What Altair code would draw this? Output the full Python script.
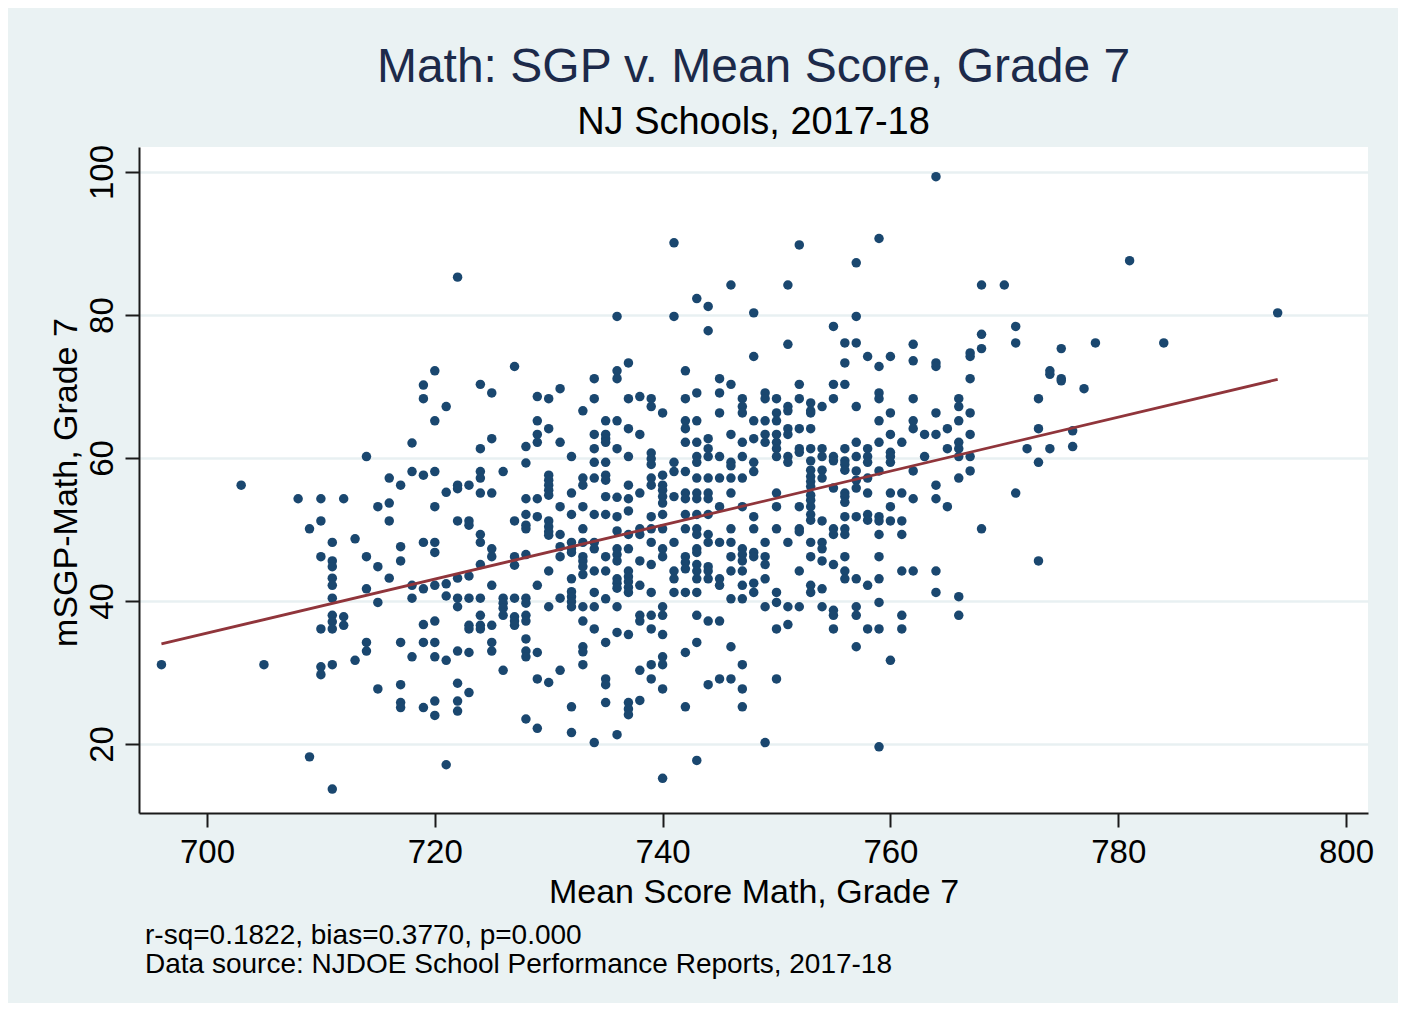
import altair as alt
import pandas as pd

# ---- data (mean scale score -> list of school mSGP values)
scores = [696, 703, 705, 708, 709, 710, 711, 712, 713, 714, 715, 716, 717, 718, 719, 720,
          721, 722, 723, 724, 725, 726, 727, 728, 729, 730, 731, 732, 733, 734, 735, 736,
          737, 738, 739, 740, 741, 742, 743, 744, 745, 746, 747, 748, 749, 750, 751, 752,
          753, 754, 755, 756, 757, 758, 759, 760, 761, 762, 763, 764, 765, 766, 767, 768,
          770, 771, 772, 773, 774, 775, 776, 777, 778, 781, 784, 794]

msgp = [
    [31.1],
    [56.2],
    [31.1],
    [54.3],
    [50.1, 18.2],
    [54.3, 51.2, 46.2, 36.1, 30.8, 29.7],
    [48.2, 45.6, 44.8, 43.2, 42.2, 40.4, 38.0, 37.1, 36.1, 31.1, 13.7],
    [54.3, 37.8, 36.6],
    [48.7, 31.7],
    [60.2, 46.2, 41.7, 34.2, 33.0],
    [53.2, 44.8, 39.8, 27.7],
    [57.2, 53.7, 51.2, 43.2],
    [56.2, 47.6, 45.6, 34.2, 28.3, 25.8, 25.1],
    [62.1, 58.1, 42.2, 40.4, 32.2],
    [70.2, 68.3, 57.6, 48.2, 41.7, 36.7, 34.2, 25.1],
    [72.2, 65.2, 58.1, 53.2, 48.2, 46.8, 42.2, 37.2, 34.2, 32.2, 26.0, 24.0],
    [67.2, 55.2, 42.4, 40.7, 31.7, 17.1],
    [85.3, 56.2, 55.7, 51.2, 43.2, 40.4, 39.2, 33.0, 28.5, 26.0, 24.6],
    [56.2, 51.2, 50.6, 43.5, 40.4, 36.6, 36.1, 32.8, 27.2],
    [70.3, 61.3, 58.1, 57.2, 55.1, 49.3, 48.2, 45.1, 40.4, 38.0, 36.6, 36.1],
    [69.1, 62.7, 55.1, 47.3, 46.2, 42.2, 36.6, 34.2, 33.0],
    [58.1, 40.4, 39.7, 39.0, 38.0, 30.3],
    [72.8, 51.2, 46.2, 45.0, 40.4, 37.8, 37.2, 36.6],
    [61.6, 59.3, 54.3, 52.1, 50.6, 50.1, 46.5, 40.4, 39.7, 38.0, 37.2, 34.7, 33.0, 32.2, 23.5],
    [68.6, 65.2, 63.3, 62.2, 54.3, 51.8, 42.2, 32.8, 29.1, 22.2],
    [68.3, 64.1, 57.6, 56.9, 56.2, 55.5, 54.8, 51.2, 50.4, 49.7, 49.2, 44.2, 39.2, 28.6],
    [69.7, 62.2, 53.2, 49.3, 47.6, 46.2, 40.4, 30.3],
    [60.2, 55.1, 52.1, 48.2, 47.3, 46.8, 43.1, 41.3, 40.6, 39.9, 39.2, 25.2, 21.6],
    [66.6, 57.2, 56.2, 53.2, 50.1, 48.2, 46.2, 45.6, 44.8, 43.7, 39.2, 37.2, 33.6, 32.9, 31.1],
    [71.1, 68.3, 63.3, 61.3, 59.4, 57.2, 52.1, 48.2, 47.3, 44.2, 41.2, 39.2, 36.1, 20.2],
    [65.2, 63.3, 62.7, 62.2, 59.4, 57.6, 56.9, 54.6, 52.1, 46.2, 44.2, 40.3, 34.2, 29.1, 28.3, 25.8],
    [79.8, 72.2, 71.1, 65.2, 61.3, 54.5, 51.8, 49.8, 47.3, 46.5, 45.6, 43.1, 42.5, 41.8, 39.2, 35.6, 21.3],
    [73.3, 68.3, 64.1, 60.2, 56.2, 54.3, 52.6, 49.3, 47.3, 44.2, 43.4, 42.7, 41.9, 41.2, 35.3, 25.8, 24.9, 24.1],
    [68.6, 63.3, 55.1, 50.1, 49.3, 45.6, 42.2, 38.0, 37.2, 30.3, 26.1],
    [68.3, 67.2, 60.7, 59.9, 59.1, 57.2, 56.2, 51.8, 50.1, 48.2, 45.1, 41.2, 38.0, 36.1, 31.1, 29.1],
    [66.3, 57.6, 56.2, 55.5, 54.6, 53.7, 52.1, 50.1, 47.3, 46.2, 39.2, 38.0, 35.3, 32.2, 31.1, 27.7, 15.2],
    [90.1, 79.8, 59.4, 58.1, 54.6, 48.2, 44.2, 43.1, 41.2],
    [72.2, 68.3, 65.2, 64.1, 62.2, 58.1, 55.1, 54.3, 52.1, 50.1, 46.2, 45.4, 44.5, 41.2, 32.8, 25.2],
    [82.3, 69.1, 65.2, 62.2, 60.2, 59.4, 57.2, 55.1, 54.3, 52.1, 50.1, 49.3, 47.3, 46.8, 45.1, 44.2,
     43.1, 41.2, 38.0, 34.2, 17.7],
    [81.2, 77.8, 62.7, 61.3, 60.2, 57.2, 55.1, 54.3, 52.1, 49.3, 48.2, 44.8, 44.2, 43.1, 37.2, 28.3],
    [71.1, 69.1, 66.3, 60.2, 57.2, 53.2, 48.2, 43.1, 42.2, 37.2, 29.1],
    [84.2, 70.3, 63.3, 59.4, 58.9, 57.2, 55.1, 50.1, 48.2, 46.2, 44.2, 40.3, 33.6, 29.1],
    [68.3, 67.2, 66.3, 62.2, 60.2, 57.2, 53.2, 47.3, 46.5, 45.6, 44.2, 42.2, 40.3, 31.1, 27.7, 25.2],
    [80.3, 74.2, 65.2, 62.7, 59.4, 58.1, 51.8, 50.1, 46.8, 46.2, 42.5, 41.2],
    [69.1, 68.3, 65.2, 63.3, 62.2, 48.2, 46.2, 45.1, 43.1, 39.2, 20.2],
    [68.3, 66.3, 65.2, 63.3, 62.2, 61.3, 60.2, 55.1, 53.2, 50.1, 41.2, 39.8, 36.1, 29.1],
    [84.2, 75.9, 67.2, 66.6, 64.1, 63.3, 60.2, 59.4, 48.2, 39.2, 36.7],
    [89.8, 70.3, 68.3, 64.1, 61.3, 60.8, 53.2, 50.1, 49.7, 44.2, 39.2],
    [67.7, 66.6, 66.3, 64.1, 61.3, 59.6, 58.3, 57.4, 56.7, 56.0, 54.8, 54.1, 53.2, 52.1, 51.3, 48.2,
     46.2, 42.2, 41.2],
    [67.2, 61.3, 60.2, 58.3, 57.2, 51.2, 48.2, 47.3, 45.6, 41.7, 39.2],
    [78.4, 70.3, 68.3, 60.2, 59.6, 55.8, 50.1, 49.3, 45.1, 38.7, 38.0, 36.1],
    [76.1, 73.3, 70.3, 61.3, 59.6, 59.1, 58.3, 55.1, 54.6, 53.8, 51.8, 50.1, 49.3, 46.2, 44.2, 43.1],
    [87.3, 79.8, 76.1, 67.2, 62.2, 60.2, 58.2, 56.9, 55.8, 51.8, 43.1, 39.2, 38.0, 33.6],
    [74.2, 61.3, 60.2, 59.4, 57.2, 55.1, 52.1, 51.3, 42.2, 36.1],
    [90.7, 72.8, 69.1, 68.3, 65.2, 62.2, 58.2, 51.8, 51.2, 49.3, 46.2, 43.1, 39.8, 36.1, 19.6],
    [74.2, 66.3, 63.3, 60.8, 60.2, 59.4, 55.1, 53.2, 51.2, 31.7],
    [62.2, 55.1, 51.2, 49.3, 44.2, 38.0, 36.1],
    [75.9, 73.6, 68.3, 65.2, 64.1, 58.2, 54.3, 44.2],
    [63.3, 60.2],
    [99.35, 73.3, 72.8, 66.3, 63.3, 56.2, 54.3, 44.2, 41.2],
    [64.1, 61.3, 53.2],
    [68.3, 67.2, 65.2, 62.2, 61.3, 60.2, 57.2, 40.6, 38.0],
    [74.7, 74.2, 71.1, 66.3, 63.3, 60.2, 58.2],
    [84.2, 77.3, 75.3, 50.1],
    [84.2],
    [78.4, 76.1, 55.1],
    [61.3],
    [68.3, 64.1, 59.4, 45.6],
    [72.2, 71.7, 61.3],
    [75.3, 71.1, 70.8],
    [63.8, 61.6],
    [69.7],
    [76.1],
    [87.6],
    [76.1],
    [80.3],
]

# fitted line end points
fit_x = [696, 794]
fit_y = [34.0, 71.0]

x_ticks = [700, 720, 740, 760, 780, 800]
y_ticks = [20, 40, 60, 80, 100]

title_text = "Math: SGP v. Mean Score, Grade 7"
subtitle_text = "NJ Schools, 2017-18"
x_title = "Mean Score Math, Grade 7"
y_title = "mSGP-Math, Grade 7"
footer_lines = ["r-sq=0.1822, bias=0.3770, p=0.000",
                "Data source: NJDOE School Performance Reports, 2017-18"]

# ---- build tables
rows = []
for s, vals in zip(scores, msgp):
    for v in vals:
        rows.append({"score": s, "sgp": v})
df = pd.DataFrame(rows)
fit_df = pd.DataFrame({"score": fit_x, "sgp": fit_y})
footer_df = pd.DataFrame({"text": ["\n".join(footer_lines)]})

FONT = "Liberation Sans"
W, H = 1229, 666

x_scale = alt.Scale(domain=[694.03, 801.93], nice=False, zero=False)
y_scale = alt.Scale(domain=[10.35, 103.5], nice=False, zero=False)

x_axis = alt.Axis(
    values=x_ticks, title=x_title, grid=False,
    domainColor="#1a1a1a", domainWidth=2, tickColor="#1a1a1a", tickWidth=2, tickSize=14,
    labelFont=FONT, labelFontSize=33, labelColor="black", labelPadding=9,
    titleFont=FONT, titleFontSize=34, titleFontWeight="normal", titleColor="black",
    titleY=89, titleBaseline="alphabetic",
)
y_axis = alt.Axis(
    values=y_ticks, title=y_title, grid=True, gridColor="#e8f0f2", gridWidth=2.5,
    domainColor="#1a1a1a", domainWidth=2, tickColor="#1a1a1a", tickWidth=2, tickSize=14,
    labelFont=FONT, labelFontSize=33, labelColor="black", labelAngle=270,
    labelAlign="center", labelBaseline="bottom", labelPadding=6,
    titleFont=FONT, titleFontSize=34, titleFontWeight="normal", titleColor="black",
    titleAngle=270, titleAlign="center", titleBaseline="alphabetic",
    titleX=-63, titleY=H / 2 + 2,
)

points = alt.Chart(df).mark_circle(size=90, color="#1a476f", opacity=1).encode(
    x=alt.X("score:Q", scale=x_scale, axis=x_axis),
    y=alt.Y("sgp:Q", scale=y_scale, axis=y_axis),
)

line = alt.Chart(fit_df).mark_line(color="#90353b", strokeWidth=2.8).encode(
    x=alt.X("score:Q", scale=x_scale),
    y=alt.Y("sgp:Q", scale=y_scale),
)

footer = alt.Chart(footer_df).mark_text(
    align="left", baseline="alphabetic", font=FONT, fontSize=28,
    lineBreak="\n", lineHeight=28.7, color="black",
).encode(
    x=alt.value(6), y=alt.value(797), text="text:N"
)

chart = alt.layer(points, line, footer).properties(
    width=W, height=H,
    title=alt.TitleParams(
        text=title_text, subtitle=subtitle_text,
        font=FONT, fontSize=48, fontWeight="normal", color="#1c2a4a",
        subtitleFont=FONT, subtitleFontSize=38, subtitleColor="black",
        subtitlePadding=12, anchor="middle", frame="group", offset=2,
    ),
    autosize=alt.AutoSizeParams(type="none"),
    padding={"left": 131, "top": 139, "right": 30, "bottom": 190},
    background="#eaf2f3",
).configure_view(fill="white", strokeWidth=0)

chart.save("out.html", embed_options={"renderer": "svg", "actions": False})
